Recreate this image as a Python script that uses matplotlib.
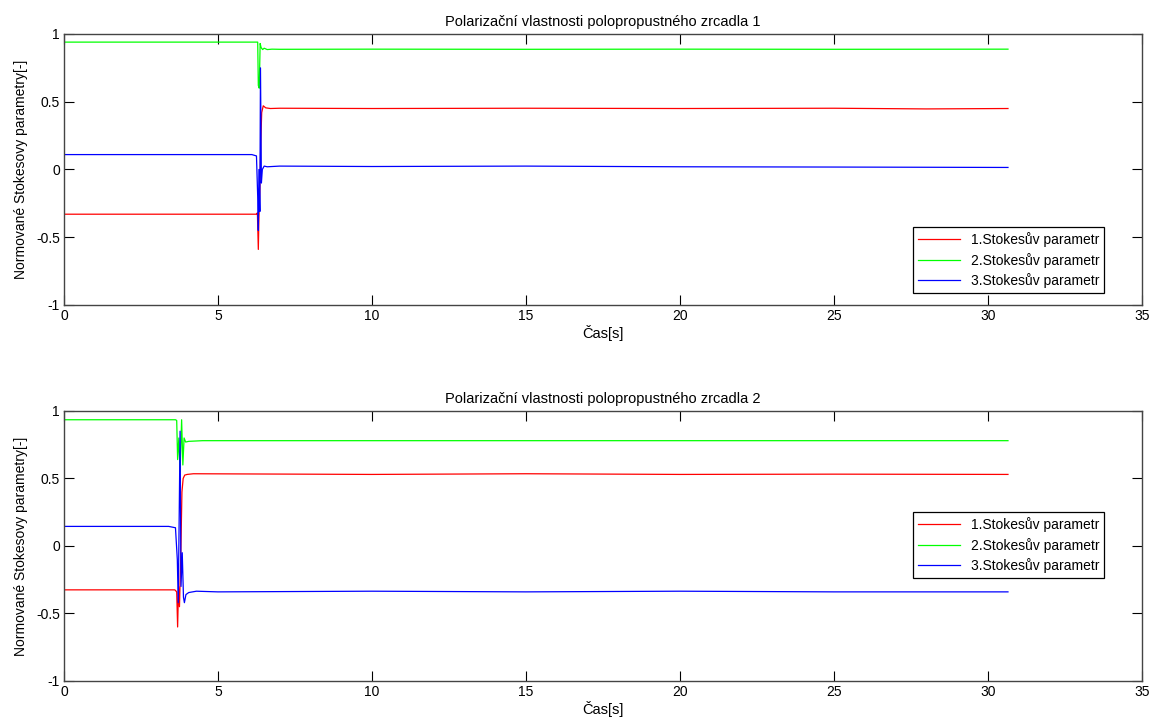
#plot.py
#Polarizacni vlastnosti polopropustnych zrcadel - normovane Stokesovy parametry

import matplotlib
matplotlib.use('Agg')
import matplotlib.pyplot as plt

plt.rcParams['font.family'] = ['Liberation Sans', 'DejaVu Sans']

labels = ['1.Stokesův parametr', '2.Stokesův parametr', '3.Stokesův parametr']
colors = ['#ff0000', '#00ff00', '#0000ff']
x_ticks = [0, 5, 10, 15, 20, 25, 30, 35]
y_ticks = [-1, -0.5, 0, 0.5, 1]

# zrcadlo 1
t1_red = [0, 6.25, 6.28, 6.31, 6.33, 6.36, 6.39, 6.42, 6.47, 6.55, 6.7, 7.0, 10, 15, 20, 25, 28, 30.65]
v1_red = [-0.33, -0.33, -0.32, -0.59, -0.35, -0.15, 0.20, 0.42, 0.47, 0.455, 0.45, 0.452, 0.45, 0.452, 0.45, 0.452, 0.447, 0.45]
t1_green = [0, 6.29, 6.31, 6.34, 6.37, 6.40, 6.45, 6.50, 6.60, 6.75, 7.0, 10, 15, 20, 25, 30.65]
v1_green = [0.94, 0.94, 0.62, 0.60, 0.93, 0.90, 0.885, 0.895, 0.885, 0.888, 0.887, 0.888, 0.887, 0.888, 0.887, 0.888]
t1_blue = [0, 6.10, 6.25, 6.29, 6.31, 6.33, 6.36, 6.38, 6.41, 6.44, 6.5, 6.6, 7.0, 10, 15, 20, 25, 30.65]
v1_blue = [0.11, 0.11, 0.10, -0.20, -0.45, 0.0, -0.31, 0.75, -0.10, 0.0, 0.025, 0.02, 0.025, 0.022, 0.025, 0.02, 0.018, 0.015]

# zrcadlo 2
t2_red = [0, 3.60, 3.66, 3.69, 3.72, 3.75, 3.79, 3.83, 3.87, 3.92, 4.0, 4.2, 10, 15, 20, 25, 30.65]
v2_red = [-0.325, -0.325, -0.34, -0.60, -0.30, -0.45, -0.10, 0.40, 0.50, 0.525, 0.53, 0.535, 0.53, 0.535, 0.53, 0.532, 0.53]
t2_green = [0, 3.62, 3.66, 3.69, 3.73, 3.77, 3.82, 3.86, 3.90, 3.95, 4.05, 4.5, 10, 15, 20, 25, 30.65]
v2_green = [0.935, 0.935, 0.93, 0.64, 0.80, 0.55, 0.935, 0.60, 0.80, 0.77, 0.775, 0.78, 0.78, 0.78, 0.78, 0.78, 0.78]
t2_blue = [0, 3.40, 3.62, 3.68, 3.71, 3.74, 3.77, 3.80, 3.84, 3.88, 3.91, 3.96, 4.05, 4.3, 5, 10, 15, 20, 25, 30.65]
v2_blue = [0.145, 0.145, 0.135, -0.10, -0.42, 0.20, 0.85, -0.30, -0.05, -0.38, -0.42, -0.36, -0.345, -0.335, -0.34, -0.335, -0.34, -0.335, -0.34, -0.34]


def Panel(ax, series, title, legend_y):
    for (t, v), c, l in zip(series, colors, labels):
        ax.plot(t, v, color=c, linewidth=0.9, label=l)
    ax.set_xlim(0, 35)
    ax.set_ylim(-1, 1)
    ax.set_xticks(x_ticks)
    ax.set_yticks(y_ticks)
    ax.set_yticklabels(['-1', '-0.5', '0', '0.5', '1'])
    ax.tick_params(direction='in', length=7, width=0.8, top=True, right=True,
                   labelsize=10, colors='#000000', pad=3)
    for s in ax.spines.values():
        s.set_color('#444444')
        s.set_linewidth(1.0)
    ax.set_title(title, fontsize=10.5, pad=6)
    ax.set_xlabel('Čas[s]', fontsize=10.5, labelpad=1)
    ax.set_ylabel('Normované Stokesovy parametry[-]', fontsize=10, labelpad=6)
    leg = ax.legend(loc='lower right', bbox_to_anchor=(0.965, legend_y), fontsize=10,
                    fancybox=False, framealpha=1, edgecolor='#000000',
                    handlelength=3.0, borderpad=0.35, labelspacing=0.4,
                    borderaxespad=0)
    leg.get_frame().set_linewidth(0.9)


def Plot():
    fig = plt.figure(figsize=(11.61, 7.2), dpi=100)
    ax1 = fig.add_axes([0.0551, 0.5764, 0.9285, 0.3764])
    ax2 = fig.add_axes([0.0551, 0.0542, 0.9285, 0.375])
    Panel(ax1, [(t1_red, v1_red), (t1_green, v1_green), (t1_blue, v1_blue)],
          'Polarizační vlastnosti polopropustného zrcadla 1', 0.044)
    Panel(ax2, [(t2_red, v2_red), (t2_green, v2_green), (t2_blue, v2_blue)],
          'Polarizační vlastnosti polopropustného zrcadla 2', 0.381)
    fig.savefig('out.png', dpi=100)


Plot()
